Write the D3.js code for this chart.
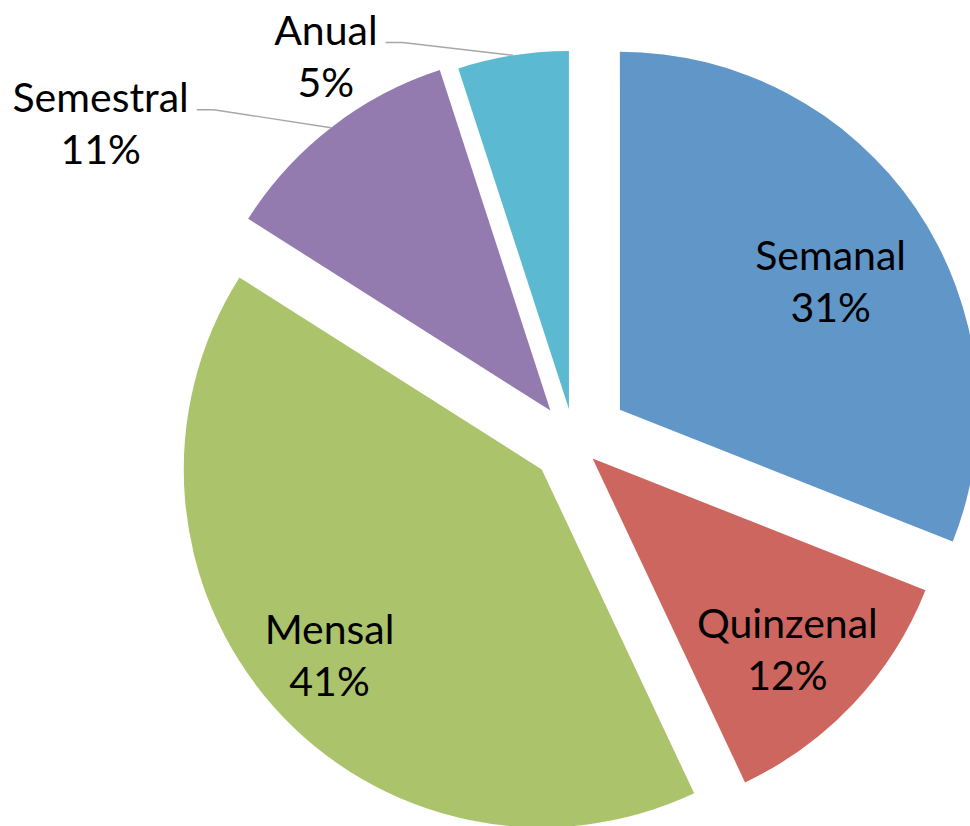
<!DOCTYPE html>
<html><head><meta charset="utf-8">
<script src="https://cdn.jsdelivr.net/npm/d3@7"></script>
<style>html,body{margin:0;padding:0;background:#fff} svg{display:block}</style>
</head><body><svg id="chart" width="970" height="826"></svg>
<script>
// ---- data ----
const categories = ["Semanal", "Quinzenal", "Mensal", "Semestral", "Anual"];
const values = [31, 12, 41, 11, 5];
const percentLabels = ["31%", "12%", "41%", "11%", "5%"];

// ---- style / layout ----
const colors = ["#6096C8", "#CD665F", "#ABC46C", "#937BB0", "#5BB9D2"];
const cx = 574, cy = 441, R = 358;
const explode = [55.5, 25.5, 43, 38.5, 32.5];
// label anchor (first baseline, centred) in polar coords from slice apex: [angle deg, distance]
const labelPolar = [[56.4, 253], [132.7, 265], [230.5, 275], [303.6, 540], [326.3, 438]];
const hasLeader = [false, false, false, true, true];
const fontSize = 41, lineGap = 52;

const svg = d3.select("#chart");
const pie = d3.pie().sort(null).value(d => d);
const arcs = pie(values);
const arc = d3.arc().innerRadius(0).outerRadius(R);

const rad = a => a * Math.PI / 180;

arcs.forEach((a, i) => {
  const mid = (a.startAngle + a.endAngle) / 2;
  const ax = cx + explode[i] * Math.sin(mid);
  const ay = cy - explode[i] * Math.cos(mid);
  const g = svg.append("g").attr("transform", `translate(${ax},${ay})`);
  g.append("path").attr("d", arc(a)).attr("fill", colors[i]);
});

arcs.forEach((a, i) => {
  const mid = (a.startAngle + a.endAngle) / 2;
  const ax = cx + explode[i] * Math.sin(mid);
  const ay = cy - explode[i] * Math.cos(mid);
  const [ang, dist] = labelPolar[i];
  const lx = ax + dist * Math.sin(rad(ang));
  const ly = ay - dist * Math.cos(rad(ang));
  const t = svg.append("text")
    .attr("x", lx).attr("y", ly)
    .attr("text-anchor", "middle")
    .attr("font-family", "Lato, 'Open Sans', sans-serif")
    .attr("font-size", fontSize)
    .attr("fill", "#000");
  const t1 = t.append("tspan").attr("x", lx).attr("y", ly).text(categories[i]);
  t.append("tspan").attr("x", lx).attr("y", ly + lineGap).text(percentLabels[i]);
  if (hasLeader[i]) {
    const w = t1.node().getComputedTextLength();
    const sx = lx + w / 2 + 8, sy = ly - 2;
    const ex = ax + R * Math.sin(mid), ey = ay - R * Math.cos(mid);
    svg.append("path")
      .attr("d", `M${sx},${sy}L${sx + 17},${sy}L${ex},${ey}`)
      .attr("fill", "none").attr("stroke", "#A6A6A6").attr("stroke-width", 1.4);
  }
});
</script></body></html>
